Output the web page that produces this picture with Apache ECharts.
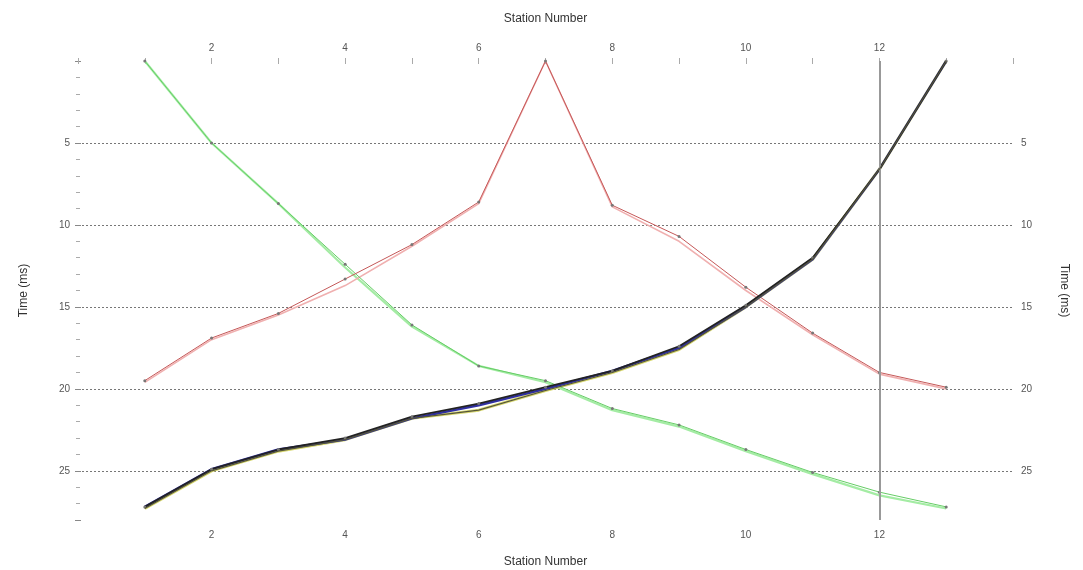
<!DOCTYPE html>
<html>
<head>
<meta charset="utf-8">
<script src="https://cdn.jsdelivr.net/npm/echarts@6/dist/echarts.min.js"></script>
<style>html,body{margin:0;padding:0;background:#fff;}#c{width:1083px;height:570px;}</style>
</head>
<body>
<div id="c"></div>
<script>
const stations = [1,2,3,4,5,6,7,8,9,10,11,12,13];
const greenA = [0,5.0,8.7,12.6,16.2,18.6,19.6,21.3,22.3,23.8,25.2,26.5,27.3];
const greenB = [0,5.0,8.7,12.4,16.1,18.6,19.5,21.2,22.2,23.7,25.1,26.3,27.2];
const redA = [19.6,17.0,15.5,13.7,11.3,8.7,0,8.9,11.0,14.0,16.7,19.1,20.0];
const redB = [19.5,16.9,15.4,13.3,11.2,8.6,0,8.8,10.7,13.8,16.6,19.0,19.9];
const olive = [27.3,25.0,23.8,23.1,21.8,21.3,20.1,19.0,17.6,15.0,12.1,6.6,0];
const blue = [27.2,24.9,23.7,23.1,21.8,21.0,20.0,18.9,17.5,15.0,12.1,6.6,0];
const black = [27.2,24.9,23.7,23.0,21.7,20.9,19.9,18.9,17.4,14.9,12.0,6.6,0];
const markerStation = 12;

const pairs = arr => stations.map((s,i)=>[s,arr[i]]);
const chart = echarts.init(document.getElementById('c'));
const xLabel = v => (v>=2 && v<=12 && v%2===0) ? String(v) : '';
const yLabel = v => (v>0 && v%5===0) ? String(v) : '';
const axisFont = {color:'#555', fontSize:10, fontFamily:'Liberation Sans'};
const nameFont = {color:'#333', fontSize:12, fontFamily:'Liberation Sans'};
function line(data, color, width, z, sym){
  return {type:'line', data:pairs(data), symbol: sym ? 'circle' : 'none', symbolSize:3,
    itemStyle:{color:'#777'}, lineStyle:{color:color, width:width}, z:z, animation:false, silent:true};
}
const series = [
  line(greenA,'#a4eca4',2.2,2,false),
  line(greenB,'#66cc66',1,3,true),
  line(redA,'#f0b0b0',1.6,2,false),
  line(redB,'#c45858',1,3,true),
  line(olive,'#d8d870',3,2,false),
  line(blue,'#3030a0',2.4,3,false),
  line(black,'#222222',1.8,4,true),
  line(olive,'#55553a',1.2,5,false)
];
series[0].markLine = {symbol:'none', silent:true, label:{show:false},
  lineStyle:{color:'#999', width:2, type:'solid'}, data:[{xAxis:markerStation}]};
chart.setOption({
  animation:false,
  backgroundColor:'#fff',
  grid:{left:78, right:70, top:61, bottom:50, outerBoundsMode:'none', containLabel:false},
  xAxis:[
    {type:'value', position:'bottom', min:0, max:14, interval:1,
     name:'Station Number', nameLocation:'middle', nameGap:36, nameTextStyle:nameFont,
     axisLine:{show:false}, axisTick:{show:true, length:3, lineStyle:{color:'#aaa'}},
     axisLabel:{formatter:xLabel, margin:10, ...axisFont}, splitLine:{show:false}},
    {type:'value', position:'top', min:0, max:14, interval:1,
     name:'Station Number', nameLocation:'middle', nameGap:36, nameTextStyle:nameFont,
     axisLine:{show:false}, axisTick:{show:true, length:3, lineStyle:{color:'#aaa'}},
     axisLabel:{formatter:xLabel, margin:8, ...axisFont}, splitLine:{show:false}}
  ],
  yAxis:[
    {type:'value', position:'left', inverse:true, min:0, max:28, interval:5,
     name:'Time (ms)', nameLocation:'middle', nameGap:48, nameRotate:90, nameTextStyle:nameFont,
     axisLine:{show:false}, axisTick:{show:true, length:3, lineStyle:{color:'#888'}},
     minorTick:{show:true, splitNumber:5, length:2, lineStyle:{color:'#aaa'}},
     axisLabel:{formatter:yLabel, margin:8, ...axisFont},
     splitLine:{show:true, showMinLine:false, showMaxLine:false, lineStyle:{color:'#777', type:[2,2], width:1}}},
    {type:'value', position:'right', inverse:true, min:0, max:28, interval:5,
     name:'Time (ms)', nameLocation:'middle', nameGap:45, nameRotate:-90, nameTextStyle:nameFont,
     axisLine:{show:false}, axisTick:{show:true, length:3, lineStyle:{color:'#888'}},
     minorTick:{show:true, splitNumber:5, length:2, lineStyle:{color:'#aaa'}},
     axisLabel:{formatter:yLabel, margin:8, ...axisFont},
     splitLine:{show:false}}
  ],
  series: series
});
</script>
</body>
</html>
